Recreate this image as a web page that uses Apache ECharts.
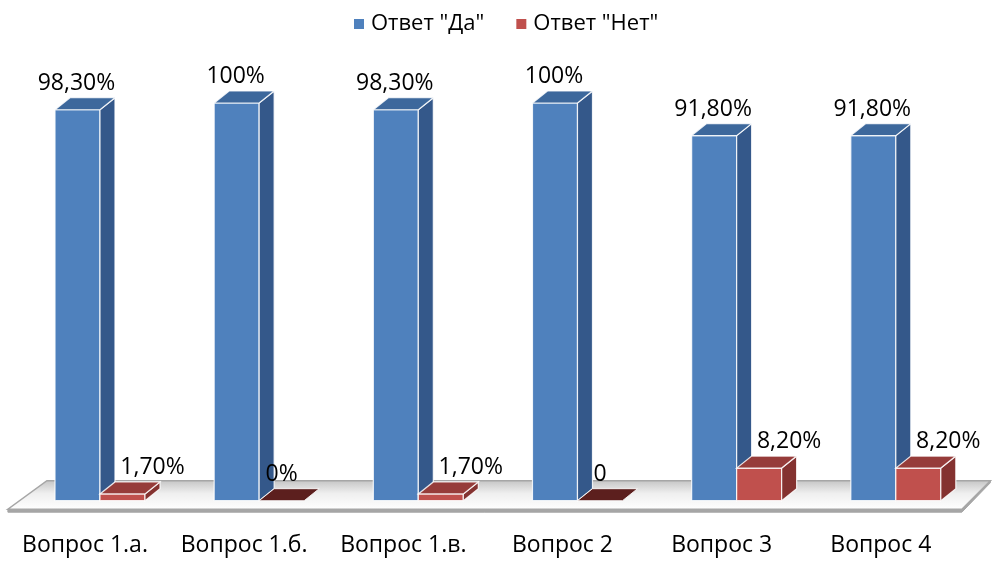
<!DOCTYPE html>
<html>
<head>
<meta charset="utf-8">
<script src="https://cdn.jsdelivr.net/npm/echarts@6/dist/echarts.min.js"></script>
<style>
html, body { margin: 0; padding: 0; background: #fff; }
#chart { width: 993px; height: 561px; }
</style>
</head>
<body>
<div id="chart"></div>
<script>
var categories = ['Вопрос 1.а.', 'Вопрос 1.б.', 'Вопрос 1.в.', 'Вопрос 2', 'Вопрос 3', 'Вопрос 4'];
var valuesDa = [98.3, 100, 98.3, 100, 91.8, 91.8];
var valuesNet = [1.7, 0, 1.7, 0, 8.2, 8.2];
var labelsDa = ['98,30%', '100%', '98,30%', '100%', '91,80%', '91,80%'];
var labelsNet = ['1,70%', '0%', '1,70%', '0', '8,20%', '8,20%'];

var FONT = '"Open Sans", "Noto Sans", sans-serif';
var BAR_W = 45, DX = 15, DY = 12;

// рисуем 3d-столбик: фронт, бок, верх
function makeBox(colors, offset, labels, labelShift) {
	return function(params, api) {
		var i = api.value(0);
		var v = api.value(1);
		var top = api.coord([i, v]);
		var base = api.coord([i, 0]);
		var x0 = top[0] + offset, x1 = x0 + BAR_W;
		var yT = top[1], yB = base[1];
		var edge = 'rgba(255,255,255,0.85)';
		var children = [];
		if (yB - yT < 1) {
			children.push({
				type: 'polygon',
				shape: { points: [[x0, yB], [x1, yB], [x1 + DX, yB - DY], [x0 + DX, yB - DY]] },
				style: { fill: colors.flat, stroke: edge, lineWidth: 1 }
			});
		} else {
			children.push({
				type: 'rect',
				shape: { x: x0, y: yT, width: BAR_W, height: yB - yT },
				style: { fill: colors.front, stroke: edge, lineWidth: 1.2 }
			});
			children.push({
				type: 'polygon',
				shape: { points: [[x1, yT], [x1 + DX, yT - DY], [x1 + DX, yB - DY], [x1, yB]] },
				style: { fill: colors.side, stroke: edge, lineWidth: 1.2 }
			});
			children.push({
				type: 'polygon',
				shape: { points: [[x0, yT], [x1, yT], [x1 + DX, yT - DY], [x0 + DX, yT - DY]] },
				style: { fill: colors.top, stroke: edge, lineWidth: 1.2 }
			});
		}
		var shift = v > 0 ? labelShift : 0;
		children.push({
			type: 'text',
			style: {
				text: labels[params.dataIndex],
				x: x0 + BAR_W / 2 + shift,
				y: yT - DY - 3,
				align: 'center',
				verticalAlign: 'bottom',
				font: '23px ' + FONT,
				fill: '#000'
			}
		});
		return { type: 'group', children: children };
	};
}

function floorItem(params, api) {
	var cs = params.coordSys;
	var yB = api.coord([0, 0])[1];
	var left = cs.x, right = cs.x + cs.width;
	var yF = yB + 8.5, yK = yB - 20;
	return {
		type: 'group',
		children: [{
			type: 'polygon',
			shape: { points: [[left + 2.5, yF + 3], [right + 1.5, yF + 3], [right + 30, yK + 2], [right + 30, yK], [right + 1.5, yF], [left + 2.5, yF]] },
			style: { fill: '#a6a6a6', stroke: '#a6a6a6', lineWidth: 1 }
		}, {
			type: 'polygon',
			shape: { points: [[left + 2.5, yF], [right + 1.5, yF], [right + 30, yK], [left + 41.5, yK]] },
			style: {
				fill: new echarts.graphic.LinearGradient(0, 0, 0, 1, [
					{ offset: 0, color: '#c4c4c4' },
					{ offset: 0.45, color: '#efefef' },
					{ offset: 1, color: '#ffffff' }
				]),
				stroke: '#a6a6a6',
				lineWidth: 1.5
			}
		}]
	};
}

var chart = echarts.init(document.getElementById('chart'));

var option = {
	animation: false,
	legend: {
		top: 8,
		left: 349,
		icon: 'rect',
		itemWidth: 10,
		itemHeight: 10,
		itemGap: 32,
		textStyle: { fontSize: 22, fontFamily: FONT, color: '#000', padding: [0, 0, 0, 2] },
		data: ['Ответ "Да"', 'Ответ "Нет"']
	},
	grid: { left: 5.4, right: 32.6, top: 103, bottom: 60.3 },
	xAxis: {
		type: 'category',
		data: categories,
		axisLine: { show: false },
		axisTick: { show: false },
		axisLabel: { color: '#000', fontSize: 23, fontFamily: FONT, margin: 33, interval: 0 }
	},
	yAxis: {
		type: 'value',
		min: 0,
		max: 100,
		show: false,
		splitLine: { show: false }
	},
	series: [{
		type: 'custom',
		name: 'floor',
		silent: true,
		renderItem: floorItem,
		data: [[0, 0]],
		z: 1
	}, {
		type: 'custom',
		name: 'Ответ "Да"',
		itemStyle: { color: '#4f81bd' },
		renderItem: makeBox({ front: '#4f81bd', side: '#34588a', top: '#3d689c', flat: '#2c4a75' }, -30, labelsDa, -1),
		data: valuesDa.map(function(v, i) { return [i, v]; }),
		z: 2
	}, {
		type: 'custom',
		name: 'Ответ "Нет"',
		itemStyle: { color: '#c0504d' },
		renderItem: makeBox({ front: '#c0504d', side: '#843230', top: '#963c3a', flat: '#5c1f1e' }, 15, labelsNet, 30),
		data: valuesNet.map(function(v, i) { return [i, v]; }),
		z: 3
	}]
};

chart.setOption(option);
</script>
</body>
</html>
